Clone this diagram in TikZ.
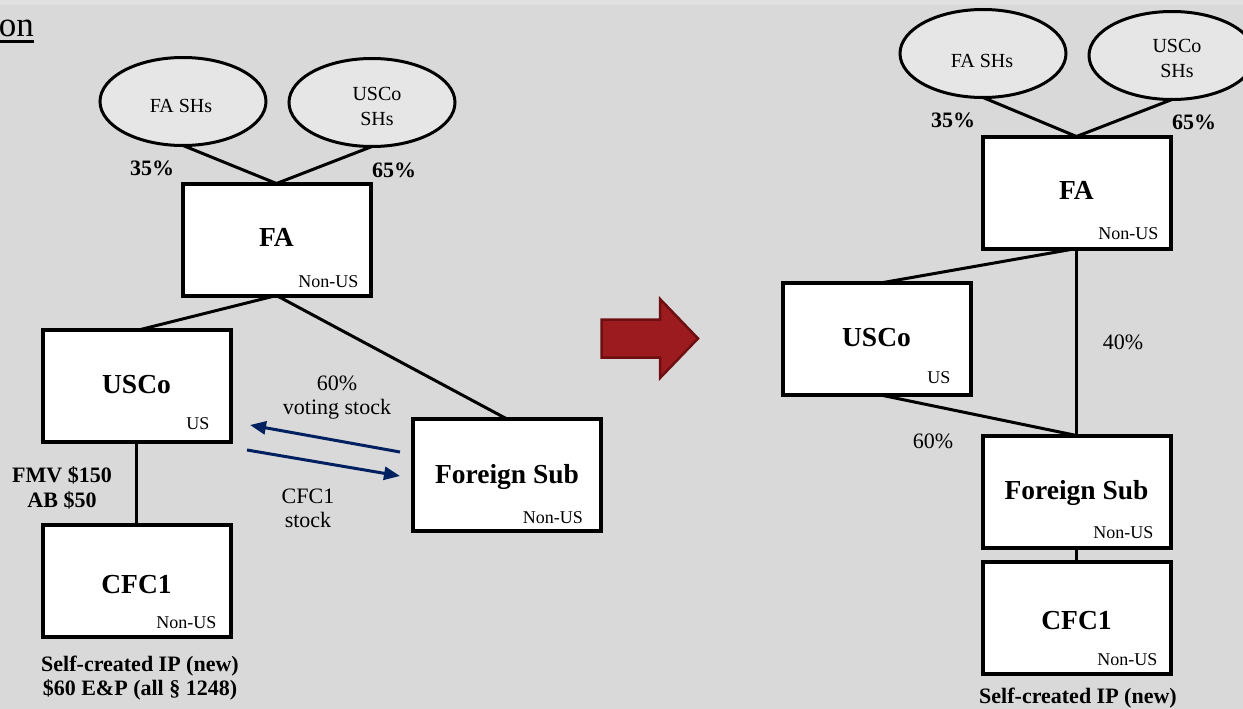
\documentclass[tikz,border=0pt]{standalone}
\usepackage{fontspec}
\setmainfont{Liberation Serif}
\usetikzlibrary{shapes.geometric,arrows.meta}
\definecolor{bg}{HTML}{D9D9D9}
\definecolor{bgtop}{HTML}{E0E0E0}
\definecolor{shellfill}{HTML}{E6E6E6}
\definecolor{navy}{HTML}{002060}
\definecolor{redfill}{HTML}{9B1B1F}
\definecolor{redline}{HTML}{6E1012}

\begin{document}
\begin{tikzpicture}[x=1pt,y=-1pt,
  entity/.style={draw, line width=4pt, fill=white, minimum width=188pt, minimum height=112pt, inner sep=0pt, outer sep=0pt},
  holder/.style={ellipse, draw, line width=3pt, fill=shellfill, minimum width=166pt, minimum height=88pt, inner sep=0pt, outer sep=0pt},
  entname/.style={font=\fontsize{27.5}{30}\selectfont\bfseries, inner sep=0pt, anchor=base},
  loc/.style={font=\fontsize{18}{20}\selectfont, inner sep=0pt, anchor=base east},
  holdertxt/.style={font=\fontsize{20}{25}\selectfont, align=center, inner sep=0pt},
  pct/.style={font=\fontsize{22}{25}\selectfont\bfseries, inner sep=0pt, anchor=base},
  remark/.style={font=\fontsize{22}{24.5}\selectfont\bfseries, align=center, inner sep=0pt},
  flow/.style={font=\fontsize{22}{24}\selectfont, align=center, inner sep=0pt},
  link/.style={line width=3pt},
  xfer/.style={line width=3pt, draw=navy, -{Triangle[length=16pt,width=13pt]}},
]
% canvas
\useasboundingbox (0,0) rectangle (1243,709);
\fill[bg] (0,0) rectangle (1243,709);
\fill[bgtop] (0,0) rectangle (1243,5);

% heading fragment
\node[font=\fontsize{35}{40}\selectfont, inner sep=0pt, anchor=base east] (hdr) at (34,37) {on};
\draw[line width=2.5pt] ([shift={(0,4.5)}]hdr.base west) -- ([shift={(0,4.5)}]hdr.base east);

% ---------- before ----------
\node[holder] (fashL) at (183,101.5) {};
\node[holder] (usshL) at (372,102.5) {};
\node[entity] (faL) at (276.5,239.5) {};
\node[entity] (uscoL) at (136.5,385.5) {};
\node[entity] (cfcL) at (136.5,581) {};
\node[entity] (fsL) at (507,475) {};

\draw[link] (fashL.south) -- (faL.north);
\draw[link] (usshL.south) -- (faL.north);
\draw[link] (faL.south) -- ([shift={(4,0)}]uscoL.north);
\draw[link] (faL.south) -- (fsL.north);
\draw[link] (uscoL.south) -- (cfcL.north);

\node[holdertxt, anchor=base] (fashLt) at (181,113) {FA SHs};
\node[holdertxt] (usshLt) at (377,106) {USCo\\SHs};

\node[entname] (faLt) at ([shift={(0,7)}]faL.center) {FA};
\node[entname] (uscoLt) at ([shift={(0,7.5)}]uscoL.center) {USCo};
\node[entname] (cfcLt) at ([shift={(0,12)}]cfcL.center) {CFC1};
\node[entname] (fsLt) at ([shift={(0,8)}]fsL.center) {Foreign Sub};

\node[loc] (faLl) at ([shift={(-12,-8)}]faL.south east) {Non-US};
\node[loc] (uscoLl) at ([shift={(-21,-12)}]uscoL.south east) {US};
\node[loc] (cfcLl) at ([shift={(-14,-9)}]cfcL.south east) {Non-US};
\node[loc] (fsLl) at ([shift={(-18,-8)}]fsL.south east) {Non-US};

\node[pct] (p35L) at (152,175) {35\%};
\node[pct] (p65L) at (394,177) {65\%};

\node[remark] (valL) at (62,488) {FMV \$150\\AB \$50};
\node[remark] (ipL) at (140,678) {Self-created IP (new)\\\$60 E\&P (all § 1248)};

% exchange of stock
\coordinate (vsFrom) at (400,452);
\coordinate (vsTo) at (250,425);
\coordinate (csFrom) at (247,450);
\coordinate (csTo) at (400,476);
\draw[xfer] (vsFrom) -- (vsTo);
\draw[xfer] (csFrom) -- (csTo);
\node[flow] (vsLbl) at (337,398) {60\%\\voting stock};
\node[flow] (csLbl) at (308,508) {CFC1\\stock};

% transition arrow
\draw[fill=redfill, draw=redline, line width=2.5pt, line join=miter]
  (601.5,319.5) -- (660,319.5) -- (660,299) -- (698,338.5) -- (660,378) -- (660,357.5) -- (601.5,357.5) -- cycle;

% ---------- after ----------
\node[holder] (fashR) at (983,53.5) {};
\node[holder] (usshR) at (1172,55.5) {};
\node[entity] (faR) at (1076.5,192.5) {};
\node[entity] (uscoR) at (876.5,339) {};
\node[entity] (fsR) at (1076.5,491.5) {};
\node[entity] (cfcR) at (1076.5,617.5) {};

\draw[link] (fashR.south) -- (faR.north);
\draw[link] (usshR.south) -- (faR.north);
\draw[link] (faR.south) -- ([shift={(4,0)}]uscoR.north);
\draw[link] (faR.south) -- (fsR.north);
\draw[link] ([shift={(4,0)}]uscoR.south) -- (fsR.north);
\draw[link] (fsR.south) -- (cfcR.north);

\node[holdertxt, anchor=base] (fashRt) at (982,67) {FA SHs};
\node[holdertxt] (usshRt) at (1177,58.5) {USCo\\SHs};

\node[entname] (faRt) at ([shift={(0,6.5)}]faR.center) {FA};
\node[entname] (uscoRt) at ([shift={(0,7.5)}]uscoR.center) {USCo};
\node[entname] (fsRt) at ([shift={(0,7.5)}]fsR.center) {Foreign Sub};
\node[entname] (cfcRt) at ([shift={(0,11.5)}]cfcR.center) {CFC1};

\node[loc] (faRl) at ([shift={(-12,-9)}]faR.south east) {Non-US};
\node[loc] (uscoRl) at ([shift={(-20,-12)}]uscoR.south east) {US};
\node[loc] (fsRl) at ([shift={(-17,-9)}]fsR.south east) {Non-US};
\node[loc] (cfcRl) at ([shift={(-13,-8)}]cfcR.south east) {Non-US};

\node[pct] (p35R) at (953,128) {35\%};
\node[pct] (p65R) at (1194,129) {65\%};
\node[flow, anchor=base] (p40R) at (1123,349) {40\%};
\node[flow, anchor=base] (p60R) at (933,448) {60\%};

\node[remark, anchor=base] (ipR) at (1078,703) {Self-created IP (new)};
\end{tikzpicture}
\end{document}
